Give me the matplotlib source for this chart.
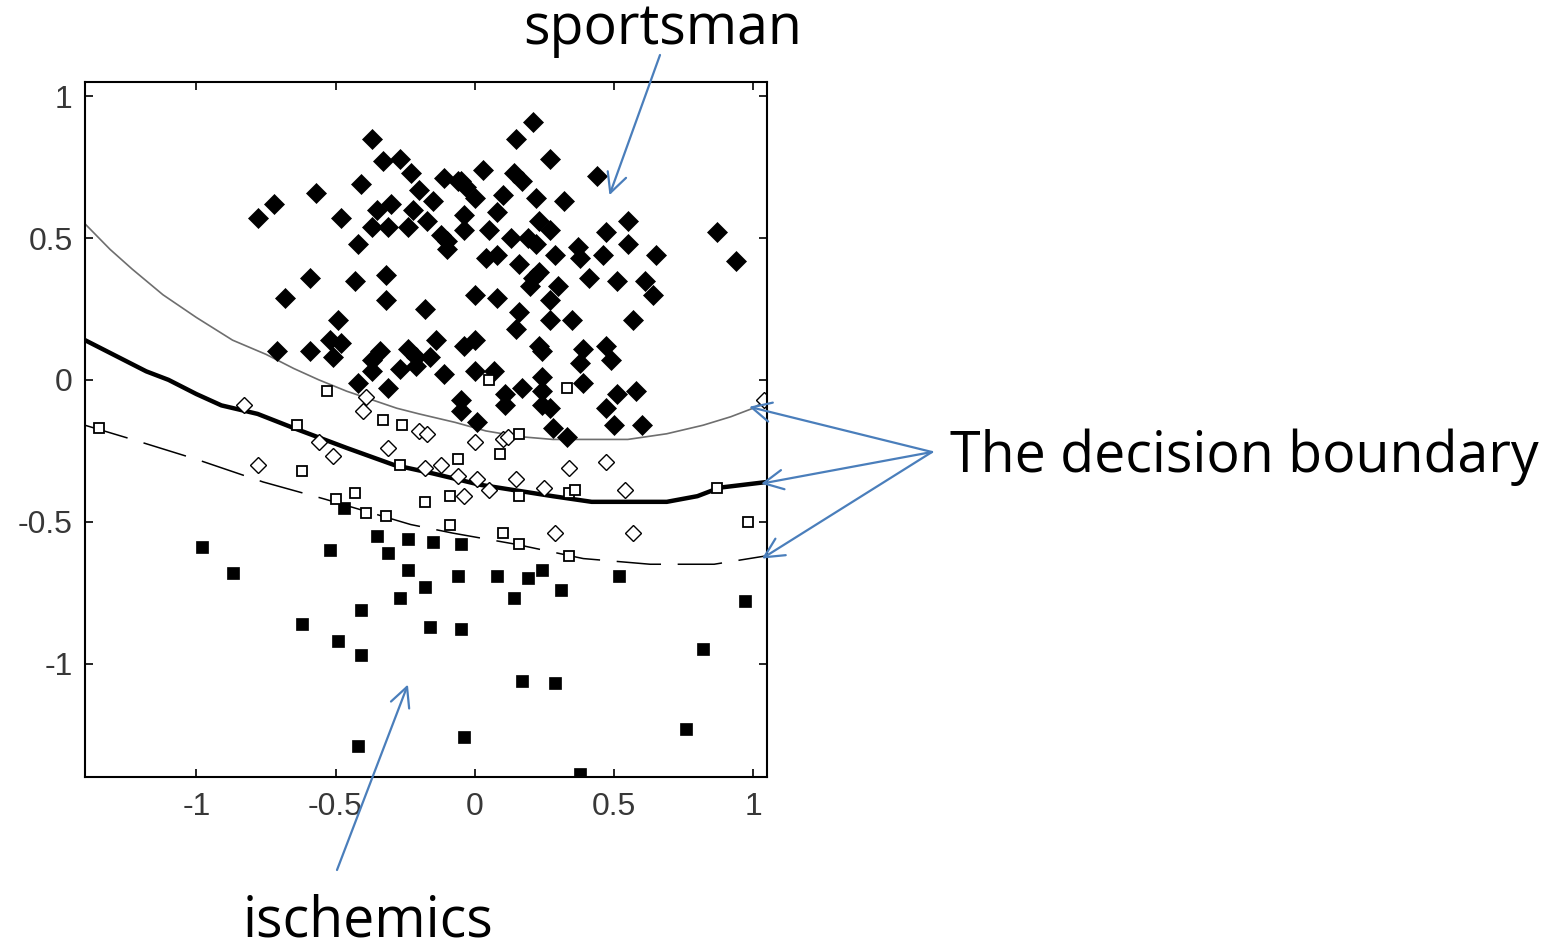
import matplotlib.pyplot as plt
import matplotlib

matplotlib.rcParams['axes.unicode_minus'] = False
matplotlib.rcParams['lines.scale_dashes'] = False

# sportsman (filled diamonds)
sport_x = [-0.37, -0.33, -0.27, -0.23, -0.11, -0.06, -0.41, -0.57, -0.72, -0.78,
           -0.48, -0.20, -0.15, -0.30, -0.35, -0.22, -0.37, -0.31, -0.24, -0.17,
           -0.12, -0.10, -0.10, -0.42, -0.59, -0.43, -0.32, -0.68, -0.32, -0.18,
           -0.49, -0.52, -0.48, -0.71, -0.59, -0.51, -0.37, -0.34, -0.24, -0.21,
           -0.16, -0.14, -0.37, -0.27, -0.42, 0.21, 0.15, 0.27, 0.44, 0.03,
           0.14, 0.17, -0.05, -0.03, 0.00, 0.10, 0.22, 0.32, -0.04, 0.08,
           0.05, 0.23, 0.27, 0.13, 0.19, 0.22, 0.47, 0.55, 0.55, 0.46,
           0.65, 0.37, 0.38, -0.04, 0.04, 0.08, 0.16, 0.29, 0.23, 0.41,
           0.51, 0.61, 0.87, 0.94, 0.64, 0.57, 0.35, 0.27, 0.16, 0.15,
           0.21, 0.20, 0.30, 0.27, 0.00, 0.08, -0.04, 0.00, -0.11, 0.00,
           0.07, 0.23, 0.24, 0.39, 0.38, 0.47, 0.49, 0.17, 0.24, 0.24,
           0.24, 0.27, 0.11, 0.11, 0.39, 0.51, 0.58, 0.47, -0.05, -0.05,
           0.01, 0.28, 0.33, 0.50, 0.60, -0.31, -0.21]
sport_y = [0.85, 0.77, 0.78, 0.73, 0.71, 0.70, 0.69, 0.66, 0.62, 0.57,
           0.57, 0.67, 0.63, 0.62, 0.60, 0.60, 0.54, 0.54, 0.54, 0.56,
           0.51, 0.49, 0.46, 0.48, 0.36, 0.35, 0.37, 0.29, 0.28, 0.25,
           0.21, 0.14, 0.13, 0.10, 0.10, 0.08, 0.07, 0.10, 0.11, 0.08,
           0.08, 0.14, 0.03, 0.04, -0.01, 0.91, 0.85, 0.78, 0.72, 0.74,
           0.73, 0.70, 0.70, 0.68, 0.64, 0.65, 0.64, 0.63, 0.58, 0.59,
           0.53, 0.56, 0.53, 0.50, 0.50, 0.48, 0.52, 0.56, 0.48, 0.44,
           0.44, 0.47, 0.43, 0.53, 0.43, 0.44, 0.41, 0.44, 0.38, 0.36,
           0.35, 0.35, 0.52, 0.42, 0.30, 0.21, 0.21, 0.21, 0.24, 0.18,
           0.36, 0.33, 0.33, 0.28, 0.30, 0.29, 0.12, 0.14, 0.02, 0.03,
           0.03, 0.12, 0.10, 0.11, 0.06, 0.12, 0.07, -0.03, 0.01, -0.04,
           -0.09, -0.10, -0.05, -0.09, -0.01, -0.05, -0.04, -0.10, -0.07, -0.11,
           -0.15, -0.17, -0.20, -0.16, -0.16, -0.03, 0.05]

# sportsman near the boundary (open diamonds)
sport_open_x = [-0.83, -0.39, -0.40, -0.20, -0.17, -0.56, -0.51, -0.31, -0.78, -0.18,
                -0.12, -0.06, -0.04, 0.00, 0.10, 0.12, 0.34, 0.47, 0.01, 0.05,
                0.15, 0.25, 0.54, 0.29, 0.57, 1.04]
sport_open_y = [-0.09, -0.06, -0.11, -0.18, -0.19, -0.22, -0.27, -0.24, -0.30, -0.31,
                -0.30, -0.34, -0.41, -0.22, -0.21, -0.20, -0.31, -0.29, -0.35, -0.39,
                -0.35, -0.38, -0.39, -0.54, -0.54, -0.07]

# ischemics near the boundary (open squares)
isch_open_x = [-0.53, -1.35, -0.64, -0.33, -0.26, -0.62, -0.27, -0.50, -0.43, -0.39,
               -0.32, -0.18, -0.06, -0.09, -0.09, 0.05, 0.33, 0.16, 0.09, 0.16,
               0.34, 0.36, 0.87, 0.10, 0.16, 0.34, 0.98]
isch_open_y = [-0.04, -0.17, -0.16, -0.14, -0.16, -0.32, -0.30, -0.42, -0.40, -0.47,
               -0.48, -0.43, -0.28, -0.41, -0.51, 0.00, -0.03, -0.19, -0.26, -0.41,
               -0.40, -0.39, -0.38, -0.54, -0.58, -0.62, -0.50]

# ischemics (filled squares)
isch_x = [-0.98, -0.87, -0.52, -0.47, -0.35, -0.24, -0.31, -0.24, -0.18, -0.27,
          -0.41, -0.62, -0.49, -0.41, -0.42, -0.15, -0.05, -0.06, 0.08, 0.19,
          0.24, 0.14, 0.31, 0.52, -0.16, -0.05, 0.97, 0.82, 0.17, 0.29,
          0.76, -0.04, 0.38]
isch_y = [-0.59, -0.68, -0.60, -0.45, -0.55, -0.56, -0.61, -0.67, -0.73, -0.77,
          -0.81, -0.86, -0.92, -0.97, -1.29, -0.57, -0.58, -0.69, -0.69, -0.70,
          -0.67, -0.77, -0.74, -0.69, -0.87, -0.88, -0.78, -0.95, -1.06, -1.07,
          -1.23, -1.26, -1.39]

# decision boundaries
upper_x = [-1.40, -1.31, -1.23, -1.12, -1.00, -0.87, -0.75, -0.65, -0.56, -0.46,
           -0.37, -0.28, -0.20, -0.07, 0.04, 0.16, 0.28, 0.40, 0.55, 0.69,
           0.82, 0.92, 1.00, 1.05]
upper_y = [0.55, 0.46, 0.39, 0.30, 0.22, 0.14, 0.09, 0.04, 0.00, -0.04,
           -0.07, -0.10, -0.12, -0.15, -0.18, -0.20, -0.21, -0.21, -0.21, -0.19,
           -0.16, -0.13, -0.10, -0.07]
middle_x = [-1.40, -1.30, -1.18, -1.10, -1.00, -0.91, -0.78, -0.65, -0.46, -0.29,
            -0.15, 0.02, 0.15, 0.28, 0.42, 0.55, 0.69, 0.80, 0.88, 1.05]
middle_y = [0.14, 0.09, 0.03, 0.00, -0.05, -0.09, -0.12, -0.17, -0.24, -0.30,
            -0.33, -0.37, -0.39, -0.41, -0.43, -0.43, -0.43, -0.41, -0.38, -0.36]
lower_x = [-1.40, -1.23, -1.00, -0.76, -0.54, -0.23, -0.08, 0.15, 0.39, 0.63,
           0.86, 1.05]
lower_y = [-0.16, -0.21, -0.28, -0.36, -0.42, -0.51, -0.54, -0.58, -0.63, -0.65,
           -0.65, -0.62]

xticks = [-1, -0.5, 0, 0.5, 1]
xticklabels = ['-1', '-0.5', '0', '0.5', '1']
yticks = [-1, -0.5, 0, 0.5, 1]
yticklabels = ['-1', '-0.5', '0', '0.5', '1']

fig = plt.figure(figsize=(15.55, 9.48), dpi=100)
ax = fig.add_axes([85 / 1555, 1 - 777 / 948, 682 / 1555, 695 / 948])

ax.plot(upper_x, upper_y, color='#6e6e6e', lw=1.2)
ax.plot(middle_x, middle_y, color='black', lw=3.2)
ax.plot(lower_x, lower_y, color='black', lw=1.1, dashes=(32, 12))

ax.plot(sport_x, sport_y, 'D', color='black', ms=9.8, mec='black', mew=0.5)
ax.plot(isch_x, isch_y, 's', color='black', ms=9.0, mec='black', mew=0.5)
ax.plot(sport_open_x, sport_open_y, 'D', mfc='white', mec='black', ms=8.2, mew=1.0)
ax.plot(isch_open_x, isch_open_y, 's', mfc='white', mec='black', ms=7.5, mew=1.3)

ax.set_xlim(-1.4, 1.05)
ax.set_ylim(-1.4, 1.05)
ax.set_xticks(xticks)
ax.set_xticklabels(xticklabels)
ax.set_yticks(yticks)
ax.set_yticklabels(yticklabels)
ax.tick_params(direction='in', length=6, width=1.2, top=True, right=True,
               labelsize=23, labelcolor='#383838')
ax.tick_params(axis='x', pad=11)
ax.tick_params(axis='y', pad=9)
for lbl in ax.get_xticklabels() + ax.get_yticklabels():
    lbl.set_family('Liberation Sans')
for sp in ax.spines.values():
    sp.set_linewidth(1.5)

blue = '#4a7ebb'
arrow = dict(arrowstyle='->,head_length=0.7,head_width=0.35', color=blue, lw=1.6,
             mutation_scale=20, shrinkA=0, shrinkB=0)

label_font = dict(family='Open Sans', fontsize=40, color='black')
fig.text(663 / 1555, 1 - 30 / 948, 'sportsman', ha='center', va='center', **label_font)
fig.text(368 / 1555, 1 - 922 / 948, 'ischemics', ha='center', va='center', **label_font)
fig.text(950 / 1555, 1 - 457 / 948, 'The decision boundary', ha='left', va='center', **label_font)

ax.annotate('', xy=(0.484, 0.651), xycoords='data',
            xytext=(660 / 1555, 1 - 55 / 948), textcoords='figure fraction',
            arrowprops=arrow, annotation_clip=False)
ax.annotate('', xy=(-0.24, -1.074), xycoords='data',
            xytext=(337 / 1555, 1 - 870 / 948), textcoords='figure fraction',
            arrowprops=arrow, annotation_clip=False)
for tip in [(0.986, -0.095), (1.029, -0.366), (1.032, -0.630)]:
    ax.annotate('', xy=tip, xycoords='data',
                xytext=(932 / 1555, 1 - 452 / 948), textcoords='figure fraction',
                arrowprops=arrow, annotation_clip=False)

fig.savefig('out.png', dpi=100)
